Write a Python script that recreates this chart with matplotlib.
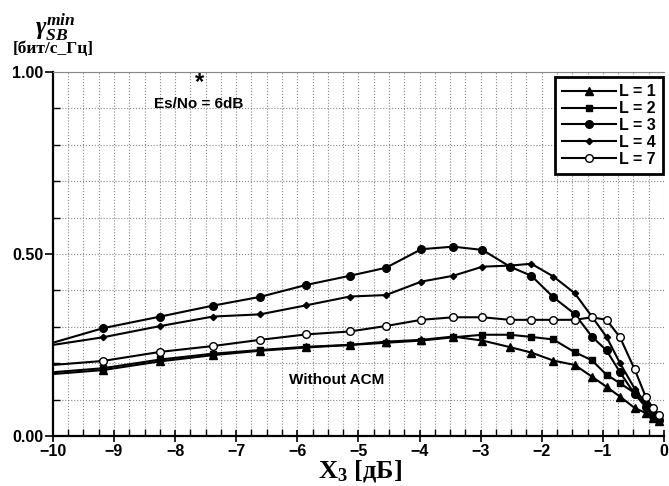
import matplotlib
matplotlib.use('Agg')
import matplotlib.pyplot as plt
from matplotlib.ticker import MultipleLocator, FixedLocator, FuncFormatter
import numpy as np

plt.rcParams.update({'font.family': 'Liberation Sans', 'font.weight': 'bold', 'font.size': 10})
plt.rcParams['mathtext.fontset'] = 'custom'
plt.rcParams['mathtext.it'] = 'Liberation Serif:italic:bold'
plt.rcParams['mathtext.rm'] = 'Liberation Serif:bold'

# X3 [dB], common grid of the computed points
x3 = [-10, -9.18, -8.24, -7.38, -6.61, -5.85, -5.14, -4.55, -3.97, -3.45, -2.97,
      -2.52, -2.17, -1.81, -1.46, -1.18, -0.94, -0.72, -0.48, -0.30, -0.18, -0.08]

L1 = [0.170, 0.181, 0.205, 0.222, 0.234, 0.243, 0.250, 0.259, 0.264, 0.273, 0.262,
      0.244, 0.229, 0.207, 0.195, 0.163, 0.135, 0.108, 0.077, 0.063, 0.050, 0.040]
L2 = [0.175, 0.186, 0.210, 0.226, 0.236, 0.245, 0.250, 0.256, 0.262, 0.271, 0.278,
      0.278, 0.272, 0.265, 0.230, 0.208, 0.168, 0.145, 0.118, 0.085, 0.050, 0.044]
L3 = [0.256, 0.296, 0.328, 0.358, 0.382, 0.415, 0.440, 0.462, 0.513, 0.520, 0.511,
      0.465, 0.440, 0.381, 0.335, 0.273, 0.235, 0.175, 0.115, 0.080, 0.060, 0.045]
L4 = [0.250, 0.271, 0.302, 0.328, 0.334, 0.359, 0.383, 0.387, 0.424, 0.440, 0.465,
      0.468, 0.473, 0.438, 0.392, 0.328, 0.272, 0.200, 0.130, 0.090, 0.065, 0.045]
L7 = [0.195, 0.206, 0.231, 0.247, 0.264, 0.279, 0.287, 0.302, 0.319, 0.326, 0.326,
      0.319, 0.319, 0.319, 0.319, 0.326, 0.319, 0.271, 0.183, 0.108, 0.076, 0.058]

series = [('L = 1', L1, '^', 5.5, 'black'),
          ('L = 2', L2, 's', 5, 'black'),
          ('L = 3', L3, 'o', 5.5, 'black'),
          ('L = 4', L4, 'D', 3.2, 'black'),
          ('L = 7', L7, 'o', 5.5, 'white')]

fig = plt.figure(figsize=(6.69, 4.86), dpi=100)
ax = fig.add_axes([0.079, 0.103, 0.9135, 0.749])

for lab, yv, mk, ms, fc in series:
    ax.plot(x3, yv, '-', color='black', lw=1.5, marker=mk, ms=ms,
            mfc=fc, mec='black', mew=1, markevery=slice(1, None), label=lab)

ax.set_xlim(-10, 0)
ax.set_ylim(0, 1.0)
ax.xaxis.set_major_locator(FixedLocator(range(-10, 1)))
ax.xaxis.set_minor_locator(MultipleLocator(0.25))
ax.xaxis.set_major_formatter(FuncFormatter(lambda v, p: '\u2212%d' % abs(v) if v < 0 else '0'))
ax.yaxis.set_major_locator(FixedLocator([0, 0.5, 1.0]))
ax.yaxis.set_minor_locator(MultipleLocator(0.1))
ax.yaxis.set_major_formatter(FuncFormatter(lambda v, p: '%.2f' % v))
ax.tick_params(axis='x', which='major', direction='inout', length=9, width=1.2, labelsize=11.5, pad=1)
ax.tick_params(axis='x', which='minor', direction='in', length=5, width=1)
ax.tick_params(axis='y', which='major', direction='out', length=6, width=1.2, labelsize=11.5, pad=1)
ax.tick_params(axis='y', which='minor', direction='in', length=5, width=1)
ax.grid(which='both', linestyle=':', color='#888888', linewidth=0.8)
ax.set_axisbelow(True)
ax.spines['left'].set_linewidth(1.6)
ax.spines['bottom'].set_linewidth(1.6)
ax.spines['top'].set_color('#888888')
ax.spines['right'].set_visible(False)

leg = ax.legend(loc='upper right', bbox_to_anchor=(1.012, 1.008), fancybox=False, framealpha=1,
                edgecolor='black', handlelength=3.4, labelspacing=0.12, borderpad=0.45,
                handletextpad=0.2, prop={'weight': 'bold', 'size': 11.5})
leg.get_frame().set_linewidth(2)

ax.text(-7.6, 0.972, '*', fontsize=17, ha='center', va='center')
ax.text(-7.62, 0.912, 'Es/No = 6dB', fontsize=11, ha='center', va='center')
ax.text(-5.35, 0.154, 'Without ACM', fontsize=11, ha='center', va='center')

fig.text(0.083, 0.945, r'$\gamma_{SB}^{min}$', fontsize=18, ha='center', va='center')
fig.text(0.08, 0.899, '[бит/с_Гц]', fontsize=12.5, ha='center', va='center',
         family='Liberation Serif', weight='bold')
fig.text(0.538, 0.03, r'$\mathregular{X_3}$ [дБ]', fontsize=19, ha='center', va='center',
         family='Liberation Serif', weight='bold')

fig.savefig('out.png', dpi=100)
